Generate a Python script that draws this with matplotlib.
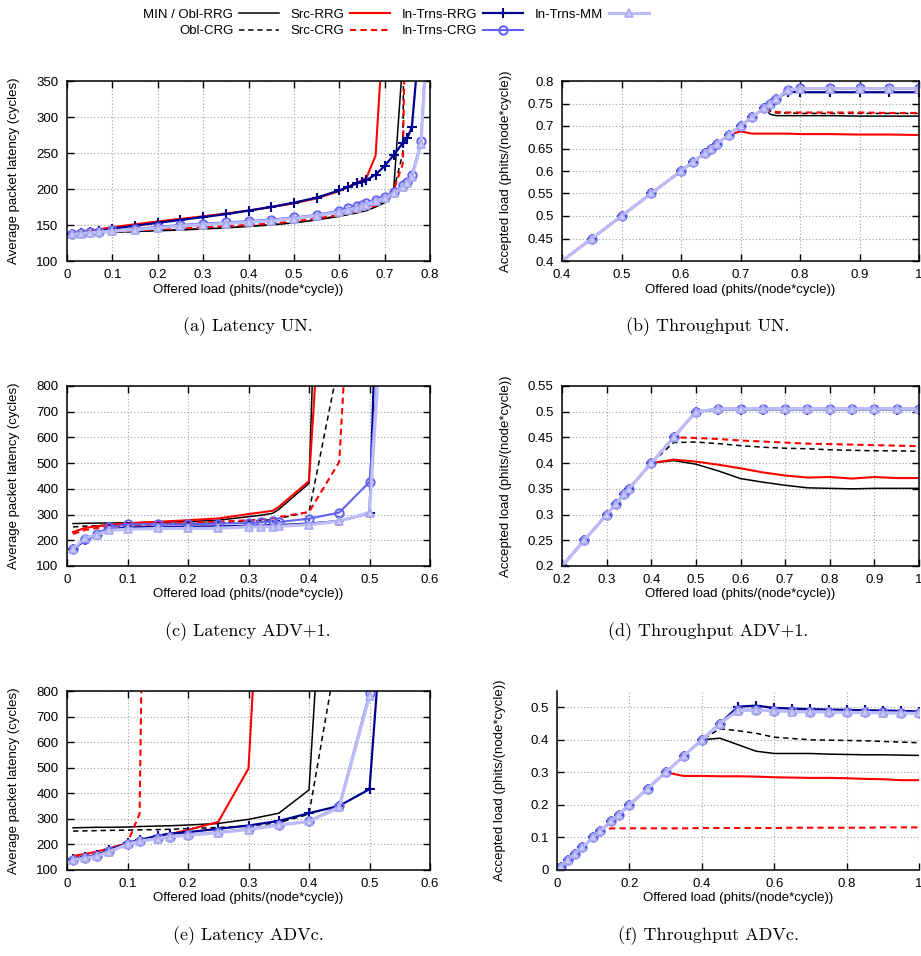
import numpy as np
import matplotlib
matplotlib.use('Agg')
import matplotlib.pyplot as plt
from matplotlib.ticker import FormatStrFormatter

nan = np.nan

# (a) Latency UN
a_x = [0.01, 0.03, 0.05, 0.07, 0.1, 0.15, 0.2, 0.25, 0.3, 0.35, 0.4, 0.45, 0.5, 0.55,
       0.6, 0.62, 0.64, 0.65, 0.66, 0.68, 0.7, 0.72, 0.74, 0.75, 0.76, 0.78, 0.8]
a_obl_rrg = [138, 138.5, 139, 139.5, 140, 141, 142, 143, 144.5, 146, 148, 150, 153, 157,
             162, 164.5, 167, 168.5, 170, 175, 181, 200, 380, 2000, nan, nan, nan]
a_obl_crg = [138, 138.5, 139, 139.5, 140, 141, 142.5, 143.5, 145, 146.5, 148.5, 150.5, 153.5, 157.5,
             163, 165, 168, 169, 171, 176, 183, 198, 250, 900, nan, nan, nan]
a_src_rrg = [138, 140, 142, 144, 147, 151, 155, 158.5, 162, 166, 170, 175, 180, 187,
             197, 203, 209, 212, 216, 246, 450, nan, nan, nan, nan, nan, nan]
a_src_crg = [138, 138.5, 139.5, 140, 141, 142.5, 144, 145.5, 147, 148.5, 150, 152, 155, 159,
             164, 166.5, 169, 170.5, 172, 177, 184, 198, 235, 600, nan, nan, nan]
a_trns_rrg = [138, 139, 140, 141, 145, 149, 153, 157, 161, 165, 170, 175, 181, 188,
              198, 203, 208, 210, 212.5, 220, 232, 247, 264, 271, 286, 430, nan]
a_trns_crg = [137, 138.4, 139.8, 140.7, 142.6, 144.5, 147.5, 150, 152, 153.5, 155.5, 157.5, 160.5, 164,
              170, 173, 176, 178, 180, 185, 189, 196, 205.5, 210, 219, 266, 500]
a_trns_mm = [137, 138, 139, 140, 141.5, 143.5, 146, 148.5, 150.5, 152, 154, 156, 159, 163,
             168, 171, 174, 176, 178, 183, 187, 194, 203, 208, 216, 262, 480]

# (b) Throughput UN
b_x = [0.35, 0.45, 0.5, 0.55, 0.6, 0.62, 0.64, 0.65, 0.66, 0.68, 0.7, 0.72, 0.74, 0.75,
       0.76, 0.78, 0.8, 0.85, 0.9, 0.95, 1.0]
b_obl_rrg = [0.35, 0.45, 0.5, 0.55, 0.6, 0.62, 0.64, 0.65, 0.66, 0.68, 0.7, 0.72, 0.74, 0.726,
             0.723, 0.723, 0.723, 0.723, 0.722, 0.722, 0.722]
b_obl_crg = [0.35, 0.45, 0.5, 0.55, 0.6, 0.62, 0.64, 0.65, 0.66, 0.68, 0.7, 0.72, 0.74, 0.733,
             0.729, 0.729, 0.728, 0.728, 0.728, 0.728, 0.728]
b_src_rrg = [0.35, 0.45, 0.5, 0.55, 0.6, 0.62, 0.64, 0.65, 0.66, 0.68, 0.688, 0.683, 0.683, 0.683,
             0.683, 0.683, 0.682, 0.682, 0.681, 0.681, 0.68]
b_src_crg = [0.35, 0.45, 0.5, 0.55, 0.6, 0.62, 0.64, 0.65, 0.66, 0.68, 0.7, 0.72, 0.74, 0.735,
             0.731, 0.73, 0.73, 0.73, 0.73, 0.729, 0.729]
b_trns_rrg = [0.35, 0.45, 0.5, 0.55, 0.6, 0.62, 0.64, 0.65, 0.66, 0.68, 0.7, 0.72, 0.74, 0.75,
              0.76, 0.776, 0.775, 0.775, 0.775, 0.775, 0.775]
b_trns_crg = [0.35, 0.45, 0.5, 0.55, 0.6, 0.62, 0.64, 0.65, 0.66, 0.68, 0.7, 0.72, 0.74, 0.75,
              0.76, 0.78, 0.784, 0.784, 0.784, 0.784, 0.784]
b_trns_mm = [0.35, 0.45, 0.5, 0.55, 0.6, 0.62, 0.64, 0.65, 0.66, 0.68, 0.7, 0.72, 0.74, 0.75,
             0.76, 0.78, 0.783, 0.783, 0.783, 0.783, 0.783]

# (c) Latency ADV+1
c_x = [0.01, 0.03, 0.05, 0.07, 0.1, 0.15, 0.2, 0.25, 0.3, 0.32, 0.34, 0.35, 0.4, 0.45, 0.5, 0.55]
c_obl_rrg = [265, 266, 267, 267, 268, 270, 273, 278, 292, 297, 305, 320, 421, 4000, nan, nan]
c_obl_crg = [252, 255, 257, 258, 259, 262, 265, 268, 275, 277, 280, 285, 310, 900, nan, nan]
c_src_rrg = [232, 248, 255, 260, 266, 272, 278, 285, 302, 308, 315, 330, 430, 2300, nan, nan]
c_src_crg = [225, 240, 248, 253, 258, 263, 268, 272, 278, 281, 285, 290, 310, 505, 2600, nan]
c_trns_rrg = [165, 200, 222, 242, 250, 252, 253, 254, 256, 257, 258, 259, 265, 275, 305, 4000]
c_trns_crg = [167, 204, 226, 252, 262, 262, 262, 265, 267, 270, 274, 271, 284, 308, 427, 1980]
c_trns_mm = [167, 209, 222, 239, 243, 246, 246, 247, 252, 252, 253, 254, 261, 274, 308, 2200]

# (d) Throughput ADV+1
d_x = [0.2, 0.25, 0.3, 0.32, 0.34, 0.35, 0.4, 0.45, 0.5, 0.55, 0.6, 0.65, 0.7, 0.75,
       0.8, 0.85, 0.9, 0.95, 1.0]
d_obl_rrg = [0.2, 0.25, 0.3, 0.32, 0.34, 0.35, 0.4, 0.405, 0.398, 0.385, 0.37, 0.363, 0.357, 0.352,
             0.351, 0.35, 0.351, 0.351, 0.351]
d_obl_crg = [0.2, 0.25, 0.3, 0.32, 0.34, 0.35, 0.4, 0.44, 0.441, 0.438, 0.434, 0.431, 0.429, 0.428,
             0.426, 0.425, 0.424, 0.424, 0.423]
d_src_rrg = [0.2, 0.25, 0.3, 0.32, 0.34, 0.35, 0.4, 0.407, 0.403, 0.397, 0.39, 0.382, 0.376, 0.372,
             0.373, 0.37, 0.373, 0.371, 0.371]
d_src_crg = [0.2, 0.25, 0.3, 0.32, 0.34, 0.35, 0.4, 0.45, 0.449, 0.447, 0.444, 0.442, 0.44, 0.438,
             0.437, 0.436, 0.435, 0.434, 0.433]
d_trns_rrg = [0.2, 0.25, 0.3, 0.32, 0.34, 0.35, 0.4, 0.45, 0.5, 0.504, 0.504, 0.504, 0.504, 0.504,
              0.504, 0.504, 0.504, 0.504, 0.504]
d_trns_crg = [0.2, 0.25, 0.3, 0.32, 0.34, 0.35, 0.4, 0.45, 0.5, 0.506, 0.506, 0.506, 0.506, 0.506,
              0.506, 0.506, 0.506, 0.506, 0.506]
d_trns_mm = [0.2, 0.25, 0.3, 0.32, 0.34, 0.35, 0.4, 0.45, 0.5, 0.505, 0.505, 0.505, 0.505, 0.505,
             0.505, 0.505, 0.505, 0.505, 0.505]

# (e) Latency ADVc
e_x = [0.01, 0.03, 0.05, 0.07, 0.1, 0.12, 0.15, 0.17, 0.2, 0.25, 0.3, 0.35, 0.4, 0.45, 0.5, 0.55]
e_obl_rrg = [265, 266, 267, 267, 268, 270, 272, 273, 276, 282, 298, 322, 413, 2350, nan, nan]
e_obl_crg = [252, 253, 254, 255, 256, 257, 258, 259, 262, 266, 272, 285, 318, 1000, nan, nan]
e_src_rrg = [155, 163, 172, 185, 205, 215, 230, 240, 257, 288, 497, 2660, nan, nan, nan, nan]
e_src_crg = [150, 158, 168, 180, 207, 320, 5500, nan, nan, nan, nan, nan, nan, nan, nan, nan]
e_trns_rrg = [144, 151, 158, 179, 205, 218, 234, 242, 248, 261, 274, 292, 322, 351, 416, 2016]
e_trns_crg = [140, 147, 156, 173, 203, 214, 225, 231, 238, 248, 261, 277, 290, 351, 792, nan]
e_trns_mm = [140, 146, 155, 172, 200, 212, 223, 230, 236, 246, 258, 275, 290, 345, 780, nan]

# (f) Throughput ADVc
f_x = [0.01, 0.03, 0.05, 0.07, 0.1, 0.12, 0.15, 0.17, 0.2, 0.25, 0.3, 0.35, 0.4, 0.45, 0.5,
       0.55, 0.6, 0.65, 0.7, 0.75, 0.8, 0.85, 0.9, 0.95, 1.0]
f_obl_rrg = [0.01, 0.03, 0.05, 0.07, 0.1, 0.12, 0.15, 0.17, 0.2, 0.25, 0.3, 0.35, 0.4, 0.405, 0.385,
             0.365, 0.358, 0.358, 0.358, 0.356, 0.355, 0.354, 0.354, 0.353, 0.352]
f_obl_crg = [0.01, 0.03, 0.05, 0.07, 0.1, 0.12, 0.15, 0.17, 0.2, 0.25, 0.3, 0.35, 0.4, 0.434, 0.428,
             0.42, 0.408, 0.404, 0.4, 0.399, 0.398, 0.397, 0.395, 0.393, 0.391]
f_src_rrg = [0.01, 0.03, 0.05, 0.07, 0.1, 0.12, 0.15, 0.17, 0.2, 0.25, 0.3, 0.289, 0.289, 0.288, 0.288,
             0.287, 0.285, 0.284, 0.283, 0.283, 0.282, 0.28, 0.279, 0.276, 0.276]
f_src_crg = [0.01, 0.03, 0.05, 0.07, 0.1, 0.12, 0.128, 0.128, 0.128, 0.128, 0.128, 0.128, 0.129, 0.129, 0.129,
             0.129, 0.129, 0.13, 0.13, 0.13, 0.13, 0.13, 0.131, 0.131, 0.131]
f_trns_rrg = [0.01, 0.03, 0.05, 0.07, 0.1, 0.12, 0.15, 0.17, 0.2, 0.25, 0.3, 0.35, 0.4, 0.45, 0.502,
              0.505, 0.498, 0.496, 0.494, 0.493, 0.492, 0.491, 0.49, 0.489, 0.487]
f_trns_crg = [0.01, 0.03, 0.05, 0.07, 0.1, 0.12, 0.15, 0.17, 0.2, 0.25, 0.3, 0.35, 0.4, 0.45, 0.492,
              0.493, 0.49, 0.488, 0.487, 0.486, 0.485, 0.485, 0.484, 0.483, 0.482]
f_trns_mm = [0.01, 0.03, 0.05, 0.07, 0.1, 0.12, 0.15, 0.17, 0.2, 0.25, 0.3, 0.35, 0.4, 0.45, 0.49,
             0.491, 0.489, 0.487, 0.486, 0.485, 0.484, 0.484, 0.483, 0.482, 0.481]

labels = ['MIN / Obl-RRG', 'Obl-CRG', 'Src-RRG', 'Src-CRG', 'In-Trns-RRG', 'In-Trns-CRG', 'In-Trns-MM']
captions = ['(a) Latency UN.', '(b) Throughput UN.', '(c) Latency ADV+1.',
            '(d) Throughput ADV+1.', '(e) Latency ADVc.', '(f) Throughput ADVc.']

plt.rcParams['font.family'] = ['Liberation Sans', 'DejaVu Sans']
plt.rcParams['font.size'] = 9.5

W, H = 921, 956
fig = plt.figure(figsize=(W / 100, H / 100), dpi=100)

# styles for each scheme (same order as labels)
styles = [
    dict(color='black', lw=1.1, ls='-'),
    dict(color='black', lw=1.1, ls=(0, (3.5, 2.5))),
    dict(color='#ff0000', lw=1.5, ls='-'),
    dict(color='#ff0000', lw=1.5, ls=(0, (3, 2))),
    dict(color='#000090', lw=1.6, ls='-', marker='+', ms=7, mew=1.5),
    dict(color='#6262f2', lw=1.5, ls='-', marker='o', ms=6, mfc='none', mew=1.4),
    dict(color='#bcbcf8', lw=2.3, ls='-', marker='^', ms=6, mfc='#cacaf8', mec='#a8a8ee', mew=1.2),
]


def px_axes(left, top, right, bottom):
    return fig.add_axes([left / W, 1 - bottom / H, (right - left) / W, (bottom - top) / H])


def draw(ax, x, series):
    lines = []
    for ys, st in zip(series, styles):
        ln, = ax.plot(x, ys, **st)
        lines.append(ln)
    return lines


def style_axes(ax, xlim, ylim, xticks, yticks, ylabel, open_box=False):
    ax.set_xlim(*xlim)
    ax.set_ylim(*ylim)
    ax.set_xticks(xticks)
    ax.set_yticks(yticks)
    ax.xaxis.set_major_formatter(FormatStrFormatter('%g'))
    ax.yaxis.set_major_formatter(FormatStrFormatter('%g'))
    ax.grid(True, color='#a0a0a0', lw=0.8, ls=(0, (1, 2)))
    ax.set_axisbelow(True)
    if open_box:
        ax.spines['top'].set_visible(False)
        ax.spines['right'].set_visible(False)
        ax.tick_params(direction='in', length=5, width=1, pad=6)
    else:
        ax.tick_params(direction='in', length=5, width=1, pad=6, top=True, right=True)
    for s in ax.spines.values():
        s.set_linewidth(1.1)
    ax.set_xlabel('Offered load (phits/(node*cycle))', fontsize=9.5)
    ax.set_ylabel(ylabel, fontsize=9.5)


lat_label = 'Average packet latency (cycles)'
thr_label = 'Accepted load (phits/(node*cycle))'

ax_a = px_axes(67, 81, 430, 261)
lines = draw(ax_a, a_x, [a_obl_rrg, a_obl_crg, a_src_rrg, a_src_crg, a_trns_rrg, a_trns_crg, a_trns_mm])
style_axes(ax_a, (0, 0.8), (100, 350), np.arange(0, 0.81, 0.1), np.arange(100, 351, 50), lat_label)

ax_b = px_axes(562, 81, 919, 261)
draw(ax_b, b_x, [b_obl_rrg, b_obl_crg, b_src_rrg, b_src_crg, b_trns_rrg, b_trns_crg, b_trns_mm])
style_axes(ax_b, (0.4, 1.0), (0.4, 0.8), np.arange(0.4, 1.01, 0.1), np.arange(0.4, 0.81, 0.05), thr_label)

ax_c = px_axes(67, 386, 430, 566)
draw(ax_c, c_x, [c_obl_rrg, c_obl_crg, c_src_rrg, c_src_crg, c_trns_rrg, c_trns_crg, c_trns_mm])
style_axes(ax_c, (0, 0.6), (100, 800), np.arange(0, 0.61, 0.1), np.arange(100, 801, 100), lat_label)

ax_d = px_axes(562, 386, 919, 566)
draw(ax_d, d_x, [d_obl_rrg, d_obl_crg, d_src_rrg, d_src_crg, d_trns_rrg, d_trns_crg, d_trns_mm])
style_axes(ax_d, (0.2, 1.0), (0.2, 0.55), np.arange(0.2, 1.01, 0.1), np.arange(0.2, 0.56, 0.05), thr_label)

ax_e = px_axes(67, 691, 430, 870)
draw(ax_e, e_x, [e_obl_rrg, e_obl_crg, e_src_rrg, e_src_crg, e_trns_rrg, e_trns_crg, e_trns_mm])
style_axes(ax_e, (0, 0.6), (100, 800), np.arange(0, 0.61, 0.1), np.arange(100, 801, 100), lat_label)

ax_f = px_axes(557, 691, 919, 870)
draw(ax_f, f_x, [f_obl_rrg, f_obl_crg, f_src_rrg, f_src_crg, f_trns_rrg, f_trns_crg, f_trns_mm])
style_axes(ax_f, (0, 1.0), (0, 0.55), np.arange(0, 1.01, 0.2), np.arange(0, 0.51, 0.1), thr_label, open_box=True)

# label positions
for ax in [ax_a, ax_c, ax_e]:
    ax.yaxis.set_label_coords(-0.13, 0.5)
    ax.xaxis.set_label_coords(0.5, -0.125)
for ax in [ax_b, ax_d, ax_f]:
    ax.yaxis.set_label_coords(-0.14, 0.5)
    ax.xaxis.set_label_coords(0.5, -0.125)

# sub captions
cap_pos = [(248, 327), (708, 327), (248, 632), (708, 632), (248, 936), (708, 936)]
for text, (cx, cy) in zip(captions, cap_pos):
    fig.text(cx / W, 1 - cy / H, text, family='cmr10', fontsize=13, ha='center', va='center')

fig.legend(lines, labels, ncol=4, markerfirst=False, loc='center',
           bbox_to_anchor=(396 / W, 1 - 23 / H), frameon=False, fontsize=9.5,
           handlelength=3.0, handletextpad=0.45, columnspacing=0.9, labelspacing=0.32,
           borderpad=0, borderaxespad=0)

fig.savefig('out.png', dpi=100)
